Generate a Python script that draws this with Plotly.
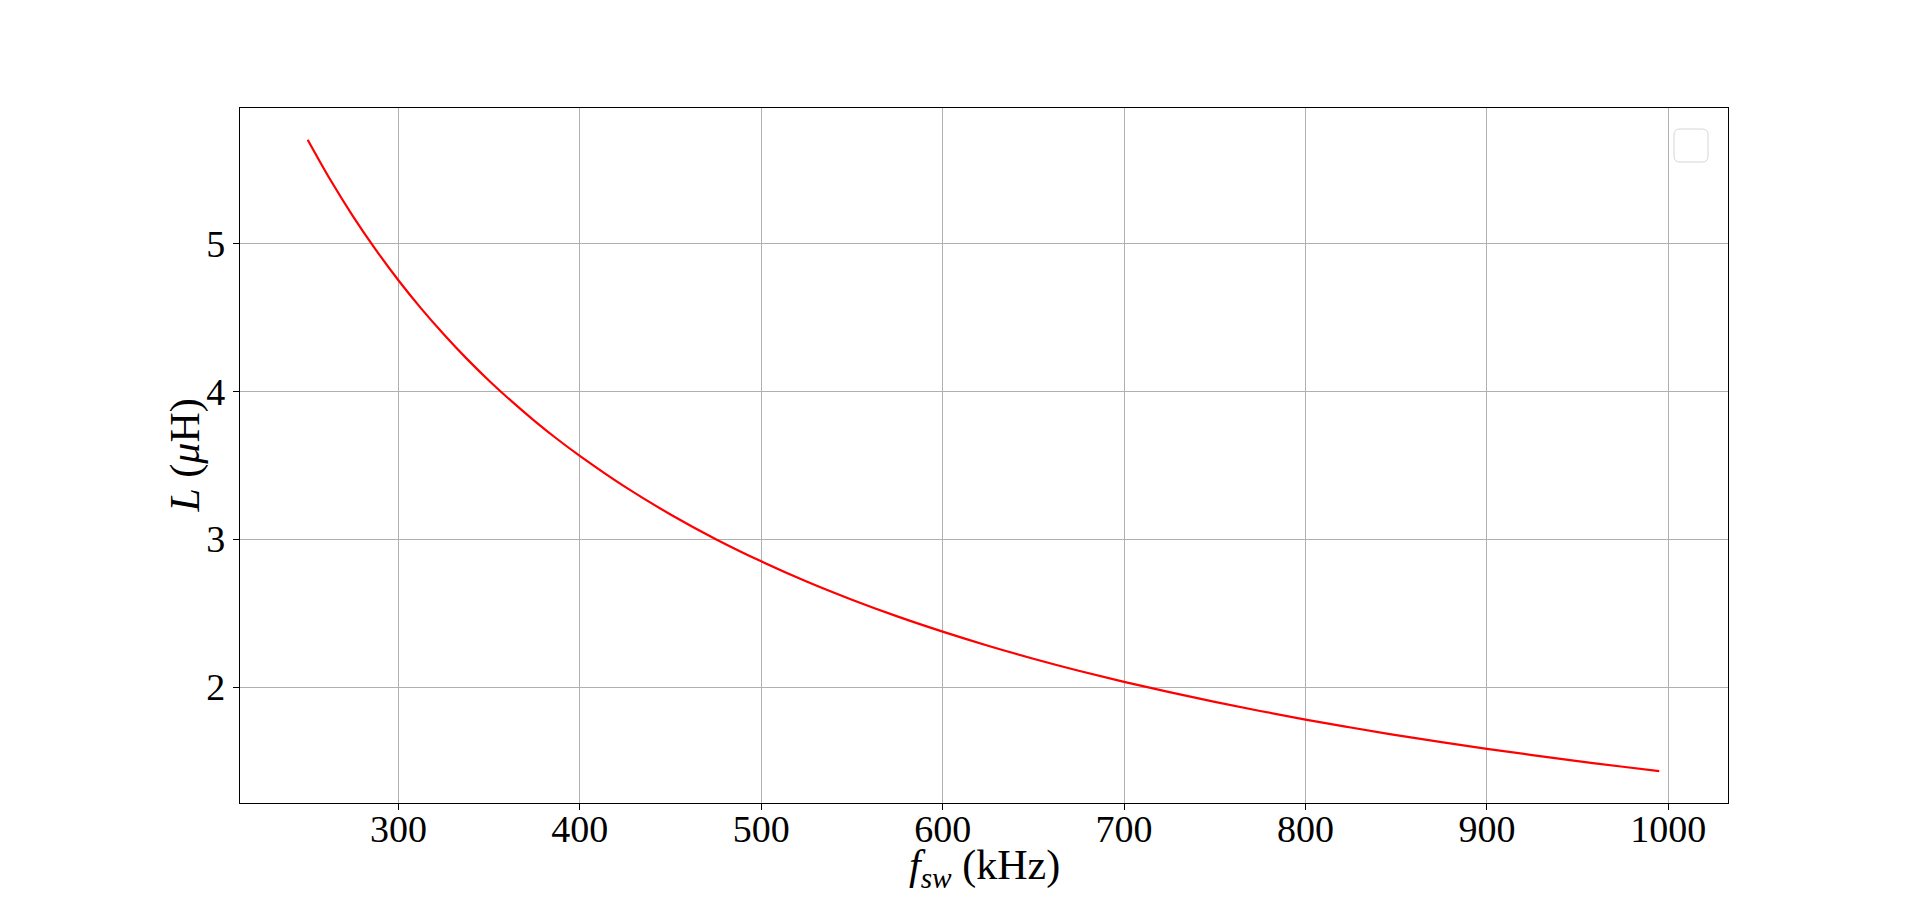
import plotly.graph_objects as go

# Switching frequency (kHz) and inductance (µH)
fsw_khz = [250, 262.5, 275, 287.5, 300, 312.5, 325, 337.5, 350, 362.5, 375, 387.5,
           400, 425, 450, 475, 500, 525, 550, 575,
           600, 625, 650, 675, 700, 725, 750, 775, 800, 825, 850, 875, 900, 925,
           950, 975, 995]
L_uH = [5.700, 5.429, 5.182, 4.957, 4.750, 4.560, 4.385, 4.222, 4.071, 3.931,
        3.800, 3.677, 3.563, 3.353, 3.167, 3.000, 2.850, 2.714, 2.591, 2.478,
        2.375, 2.280, 2.192, 2.111, 2.036, 1.966, 1.900, 1.839, 1.781, 1.727,
        1.676, 1.629, 1.583, 1.541, 1.500, 1.462, 1.432]

x_ticks = [300, 400, 500, 600, 700, 800, 900, 1000]
y_ticks = [2, 3, 4, 5]

FONT = "Liberation Serif"

# page has an 8px body margin; figure sized so the plot lands where the reference has it
W, H = 1904, 886
pl, pr, pt, pb = 232, 184, 100, 91

fig = go.Figure()
fig.add_trace(go.Scatter(
    x=fsw_khz, y=L_uH, mode="lines",
    line=dict(color="red", width=2.2, shape="spline", smoothing=1.0),
    showlegend=False, hoverinfo="x+y",
))

axis_common = dict(
    showline=True, linecolor="black", linewidth=1.3, mirror=True,
    showgrid=True, gridcolor="#b0b0b0", gridwidth=1,
    ticks="outside", ticklen=6, tickwidth=1.2, tickcolor="black",
    zeroline=False, automargin=False,
    tickfont=dict(family=FONT, size=38, color="black"),
)

fig.update_layout(
    width=W, height=H,
    paper_bgcolor="white", plot_bgcolor="white",
    margin=dict(l=pl, r=pr, t=pt, b=pb),
    xaxis=dict(range=[212.7, 1032.9], tickvals=x_ticks, ticklabelstandoff=-14,
               **axis_common),
    yaxis=dict(range=[1.217, 5.914], tickvals=y_ticks, **axis_common),
    showlegend=False,
)

fig.add_annotation(
    text="<i>f</i><sub><i>sw</i></sub> (kHz)", showarrow=False,
    xref="paper", yref="paper", x=0.5, y=0, xanchor="center", yanchor="middle",
    yshift=-65, font=dict(family=FONT, size=42, color="black"),
)
fig.add_annotation(
    text="<i>L</i> (<i>μ</i>H)", showarrow=False, textangle=-90,
    xref="paper", yref="paper", x=0, y=0.5, xanchor="center", yanchor="middle",
    xshift=-55, font=dict(family=FONT, size=42, color="black"),
)

# Empty legend frame (top-right), as in the reference (page pixel coords)
x0, x1 = 1674, 1708
y0, y1 = 129, 162
def px(x):
    return (x - 8 - pl) / (W - pl - pr)
def py(y):
    return (H - pb - (y - 8)) / (H - pt - pb)
r = 6
path = (f"M {px(x0+r)},{py(y0)} L {px(x1-r)},{py(y0)} "
        f"Q {px(x1)},{py(y0)} {px(x1)},{py(y0+r)} L {px(x1)},{py(y1-r)} "
        f"Q {px(x1)},{py(y1)} {px(x1-r)},{py(y1)} L {px(x0+r)},{py(y1)} "
        f"Q {px(x0)},{py(y1)} {px(x0)},{py(y1-r)} L {px(x0)},{py(y0+r)} "
        f"Q {px(x0)},{py(y0)} {px(x0+r)},{py(y0)} Z")
fig.add_shape(type="path", path=path, xref="paper", yref="paper",
              line=dict(color="#d6d6d6", width=1), fillcolor="rgba(255,255,255,0.8)")

fig.write_html("out.html")
